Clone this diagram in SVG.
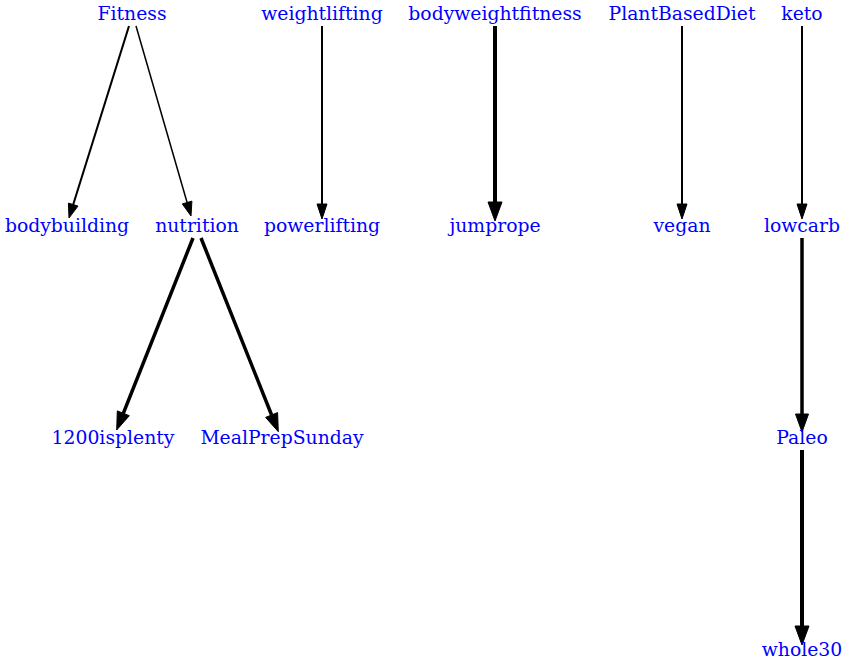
<svg xmlns="http://www.w3.org/2000/svg" width="849" height="667" viewBox="0 0 849 667">
<style>
text { font-family: "DejaVu Serif", "Liberation Serif", serif; font-size: 18.8px; fill: #0000ff; text-anchor: middle; }
line { stroke: #000; fill: none; }
polygon { fill: #000; stroke: #000; stroke-width: 1; }
</style>
<rect width="849" height="667" fill="#fff"/>
<g id="connectors">
  <g id="e-fitness-bodybuilding"><line x1="129" y1="26" x2="73.2" y2="204.6" stroke-width="2"/><polygon points="78,206.1 68.4,203.1 69,218"/></g>
  <g id="e-fitness-nutrition"><line x1="136" y1="26" x2="187.1" y2="202.5" stroke-width="1.5"/><polygon points="191.9,201.1 182.3,203.9 191,216"/></g>
  <g id="e-weightlifting-powerlifting"><line x1="322" y1="26" x2="322" y2="204" stroke-width="2"/><polygon points="317,204 327,204 322,219"/></g>
  <g id="e-bodyweightfitness-jumprope"><line x1="495" y1="26" x2="495" y2="202" stroke-width="4"/><polygon points="488,202 502,202 495,221"/></g>
  <g id="e-plantbaseddiet-vegan"><line x1="682" y1="26" x2="682" y2="204" stroke-width="2"/><polygon points="677,204 687,204 682,219"/></g>
  <g id="e-keto-lowcarb"><line x1="802" y1="26" x2="802" y2="204" stroke-width="2"/><polygon points="797,204 807,204 802,219"/></g>
  <g id="e-nutrition-1200isplenty"><line x1="193" y1="238" x2="123.3" y2="413.3" stroke-width="3.5"/><polygon points="129.3,415.7 117.3,410.9 116.7,430"/></g>
  <g id="e-nutrition-mealprepsunday"><line x1="201" y1="238" x2="271.6" y2="415" stroke-width="3.5"/><polygon points="277.6,412.6 265.6,417.4 278.3,431.7"/></g>
  <g id="e-lowcarb-paleo"><line x1="802" y1="238" x2="802" y2="414" stroke-width="3.5"/><polygon points="795.5,414 808.5,414 802,432"/></g>
  <g id="e-paleo-whole30"><line x1="802" y1="450" x2="802" y2="626" stroke-width="4"/><polygon points="795,626 809,626 802,645"/></g>
</g>
<g id="n-fitness"><text x="132" y="19.5">Fitness</text></g>
<g id="n-weightlifting"><text x="322" y="19.5">weightlifting</text></g>
<g id="n-bodyweightfitness"><text x="495" y="19.5">bodyweightfitness</text></g>
<g id="n-plantbaseddiet"><text x="682" y="19.5">PlantBasedDiet</text></g>
<g id="n-keto"><text x="802" y="19.5">keto</text></g>
<g id="n-bodybuilding"><text x="67" y="231.5">bodybuilding</text></g>
<g id="n-nutrition"><text x="197" y="231.5">nutrition</text></g>
<g id="n-powerlifting"><text x="322" y="231.5">powerlifting</text></g>
<g id="n-jumprope"><text x="495" y="231.5">jumprope</text></g>
<g id="n-vegan"><text x="682" y="231.5">vegan</text></g>
<g id="n-lowcarb"><text x="802" y="231.5">lowcarb</text></g>
<g id="n-1200isplenty"><text x="113" y="443.5">1200isplenty</text></g>
<g id="n-mealprepsunday"><text x="282" y="443.5">MealPrepSunday</text></g>
<g id="n-paleo"><text x="802" y="443.5">Paleo</text></g>
<g id="n-whole30"><text x="802" y="655.5">whole30</text></g>
</svg>
